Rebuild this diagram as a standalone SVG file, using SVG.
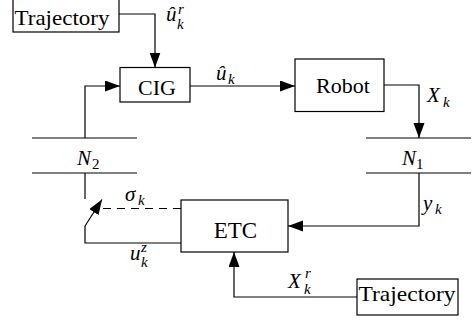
<svg xmlns="http://www.w3.org/2000/svg" width="476" height="324" viewBox="0 0 476 324">
  <defs>
    <marker id="arrow" markerUnits="userSpaceOnUse" markerWidth="16" markerHeight="12" refX="15" refY="5.5" orient="auto">
      <path d="M0,0 L15,5.5 L0,11 Z" fill="#000"/>
    </marker>
  </defs>
  <style>
    .box { fill: #fff; stroke: #000; stroke-width: 1.2; }
    .wire { fill: none; stroke: #000; stroke-width: 1.2; }
    .dash { stroke-dasharray: 8 6; }
    text { font-family: "Liberation Serif", "Times New Roman", "Liberation Sans", serif; fill: #000; }
    .lbl { font-size: 22px; }
    .mth { font-style: italic; font-size: 21px; }
    .sub { font-style: italic; font-size: 15px; }
    .num { font-size: 15px; }
  </style>

  <rect width="476" height="324" fill="#fff"/>

  <!-- connectors -->
  <g id="connectors">
    <path class="wire" d="M119,14 H155 V67.5" marker-end="url(#arrow)"/>
    <path class="wire" d="M85,138 V86 H120" marker-end="url(#arrow)"/>
    <path class="wire" d="M190,86 H295" marker-end="url(#arrow)"/>
    <path class="wire" d="M384,85 H419 V138" marker-end="url(#arrow)"/>
    <path class="wire" d="M419,173 V226 H288" marker-end="url(#arrow)"/>
    <path class="wire" d="M357,297 H234 V252" marker-end="url(#arrow)"/>
    <path class="wire dash" d="M181,208.5 H101"/>
    <path class="wire" d="M85,226 L102,199.5" marker-end="url(#arrow)"/>
    <path class="wire" d="M85,173 V199"/>
    <path class="wire" d="M85,226 V243 H181"/>
    <!-- network blocks -->
    <path class="wire" d="M32,138 H137 M32,173 H137"/>
    <path class="wire" d="M366,138 H471 M366,173 H471"/>
  </g>

  <!-- connector labels -->
  <g id="labels">
    <text class="mth" x="166" y="21">û</text>
    <text class="sub" x="178" y="14">r</text>
    <text class="sub" x="177" y="29">k</text>

    <text class="mth" x="216" y="80">û</text>
    <text class="sub" x="228" y="84">k</text>

    <text class="mth" x="427" y="102">X</text>
    <text class="sub" x="443" y="107">k</text>

    <text class="mth" x="125" y="201">σ</text>
    <text class="sub" x="138" y="205">k</text>

    <text class="mth" x="130" y="260">u</text>
    <text class="sub" x="141" y="252">z</text>
    <text class="sub" x="141" y="267">k</text>

    <text class="mth" x="423" y="210">y</text>
    <text class="sub" x="435" y="214">k</text>

    <text class="mth" x="288" y="288">X</text>
    <text class="sub" x="305" y="278">r</text>
    <text class="sub" x="304" y="294">k</text>
  </g>

  <g id="traj-top">
    <rect class="box" x="13" y="-4" width="106" height="36"/>
    <text class="lbl" x="14.5" y="25" textLength="95" lengthAdjust="spacingAndGlyphs">Trajectory</text>
  </g>

  <g id="cig">
    <rect class="box" x="120" y="67.5" width="70" height="34.5"/>
    <text class="lbl" x="157" y="95" text-anchor="middle">CIG</text>
  </g>

  <g id="robot">
    <rect class="box" x="295" y="59" width="89" height="52.5"/>
    <text class="lbl" x="343" y="93" text-anchor="middle">Robot</text>
  </g>

  <g id="n1">
    <text class="mth" x="402" y="165">N</text>
    <text class="num" x="416" y="169">1</text>
  </g>

  <g id="n2">
    <text class="mth" x="77" y="165">N</text>
    <text class="num" x="92" y="169">2</text>
  </g>

  <g id="etc">
    <rect class="box" x="181" y="200" width="107" height="52"/>
    <text class="lbl" x="235.5" y="238" text-anchor="middle" style="font-size:23px">ETC</text>
  </g>

  <g id="traj-bottom">
    <rect class="box" x="357" y="279" width="101" height="36"/>
    <text class="lbl" x="358.5" y="301" textLength="97" lengthAdjust="spacingAndGlyphs">Trajectory</text>
  </g>
</svg>
